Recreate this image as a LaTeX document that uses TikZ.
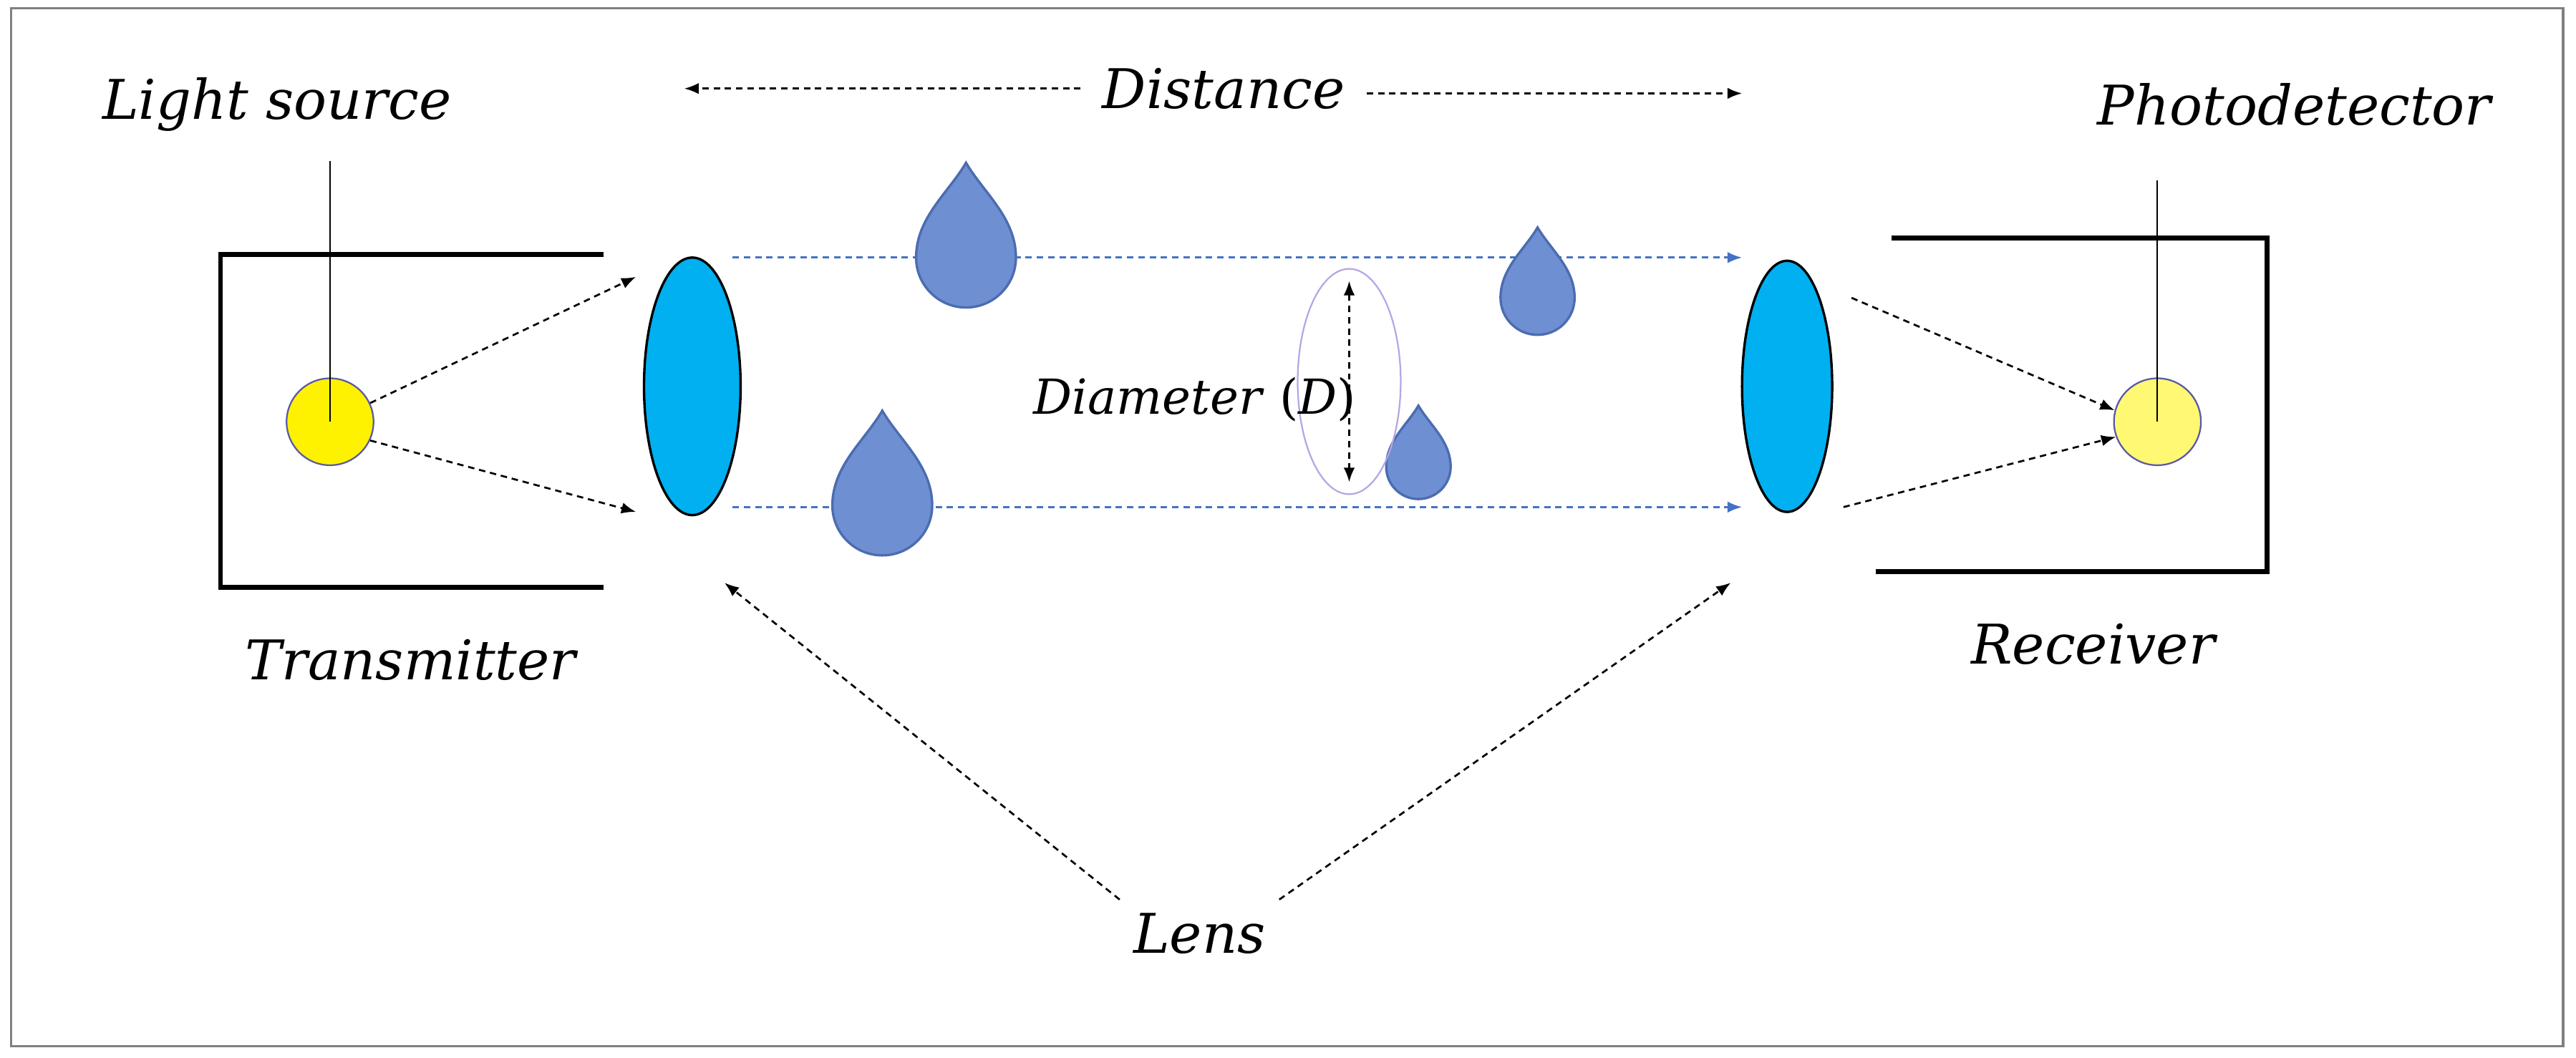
\documentclass[tikz,border=0pt]{standalone}
\usepackage{fontspec}
\setmainfont{DejaVu Serif}
\usetikzlibrary{arrows.meta,shapes.geometric,calc}
\definecolor{lenc}{HTML}{00B0F0}
\definecolor{beam}{HTML}{4472C4}
\definecolor{dropc}{HTML}{6E8FD2}
\definecolor{dropb}{HTML}{4C6CB0}
\definecolor{lav}{HTML}{B4A7E6}
\newcommand\mydrop[3]{\filldraw[dropc,draw=dropb,line width=1.5pt] (#1,#2-1.9*#3) .. controls (#1+0.35*#3,#2-1.3*#3) and (#1+#3,#2-0.8*#3) .. (#1+#3,#2) arc(0:180:#3) .. controls (#1-#3,#2-0.8*#3) and (#1-0.35*#3,#2-1.3*#3) .. cycle;}
\begin{document}
\begin{tikzpicture}[x=1pt,y=-1pt,
 lbl/.style={font=\fontsize{34}{40}\selectfont\itshape},
 dsh/.style={dash pattern=on 4pt off 3pt},
 da/.style={dsh,line width=1.2pt,-{Latex[length=9pt,width=7pt]}},
 ba/.style={beam,dsh,line width=1.2pt,-{Latex[length=9pt,width=7pt]}},
 br/.style={line width=3pt},
 lens/.style={ellipse,draw,line width=1.5pt,fill=lenc,minimum width=60pt,minimum height=160pt,inner sep=0pt}]
\useasboundingbox (0,0) rectangle (1600,657);
\draw[gray,line width=1.5pt] (7,5) rectangle (1592,650);
% transmitter
\draw[br] (375,158) -- (137,158) -- (137,365) -- (375,365);
\node[circle,draw=gray!70!blue,fill=yellow,minimum size=54pt,inner sep=0pt,line width=1pt] (ls) at (205,262) {};
\node[lbl] (lst) at (172,65) {Light source};
\coordinate (lstop) at (205,100);
\draw[line width=1pt] (lstop) -- (ls.center);
\node[lbl] (tx) at (255,410) {Transmitter};
% lenses
\node[lens] (ll) at (430,240) {};
\node[lens,minimum width=56pt,minimum height=156pt] (rl) at (1110,240) {};
\coordinate (la) at (395,172); \coordinate (lb) at (395,318);
\draw[da] (ls.25) -- (la);
\draw[da] (ls.-25) -- (lb);
% beams
\coordinate (b1s) at (455,160); \coordinate (b1e) at (1082,160);
\coordinate (b2s) at (455,315); \coordinate (b2e) at (1082,315);
\draw[ba] (b1s) -- (b1e);
\draw[ba] (b2s) -- (b2e);
% drops
\mydrop{600}{160}{31}
\mydrop{955}{185}{23}
\mydrop{548}{314}{31}
\mydrop{881}{290}{20}
% diameter
\node[ellipse,draw=lav,line width=1pt,minimum width=64pt,minimum height=140pt,inner sep=0pt] (de) at (838,237) {};
\draw[dsh,line width=1.2pt,{Latex[length=9pt,width=7pt]}-{Latex[length=9pt,width=7pt]}] ($(de.north)+(0,8)$) -- ($(de.south)+(0,-8)$);
\node[font=\fontsize{30}{36}\selectfont\itshape] (dia) at (742,248) {Diameter \textup{(}D\textup{)}};
% distance
\node[lbl] (dist) at (760,55) {Distance};
\coordinate (d1) at (425,55); \coordinate (d2) at (1082,58);
\draw[da] ($(dist.west)+(-10,0)$) -- (d1);
\draw[da] ($(dist.east)+(10,3)$) -- (d2);
% receiver
\draw[br] (1175,148) -- (1408,148) -- (1408,355) -- (1165,355);
\node[circle,draw=gray!70!blue,fill=yellow!55,minimum size=54pt,inner sep=0pt,line width=1pt] (pd) at (1340,262) {};
\node[lbl] (pdt) at (1425,65) {Photodetector};
\coordinate (pdtop) at (1340,112);
\draw[line width=1pt] (pdtop) -- (pd.center);
\node[lbl] (rx) at (1300,400) {Receiver};
\coordinate (ra) at (1150,185); \coordinate (rb) at (1145,315);
\draw[da] (ra) -- (pd.165);
\draw[da] (rb) -- (pd.200);
% lens label
\node[lbl] (lens) at (745,580) {Lens};
\coordinate (lp1) at (450,362); \coordinate (lp2) at (1075,362);
\draw[da] ($(lens.north west)+(-5,-5)$) -- (lp1);
\draw[da] ($(lens.north east)+(5,-5)$) -- (lp2);
\end{tikzpicture}
\end{document}
